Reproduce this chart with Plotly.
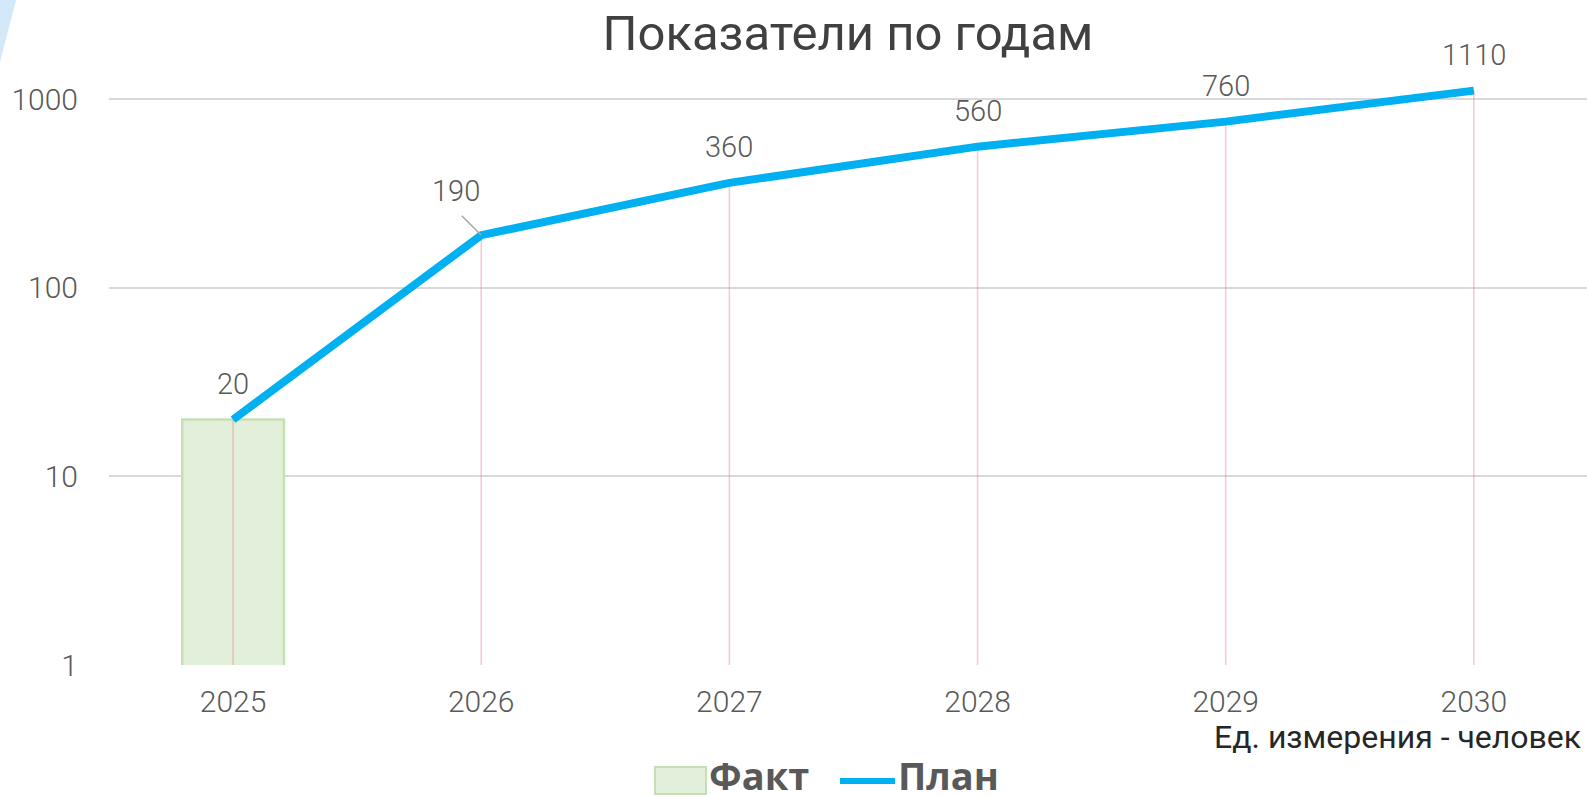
import math
import plotly.graph_objects as go

categories = ["2025", "2026", "2027", "2028", "2029", "2030"]
fact_values = [20, None, None, None, None, None]
plan_values = [20, 190, 360, 560, 760, 1110]
y_tick_values = [1, 10, 100, 1000]
y_tick_labels = ["1", "10", "100", "1000"]

W, H = 1587, 797
ML, MR, MT, MB = 109, 0, 52, 132

GREY = "#595959"
TICK_FONT = dict(family="Roboto", size=30, color=GREY, weight=300)
LABEL_FONT = dict(family="Roboto", size=29, color=GREY, weight=300)

fig = go.Figure()

# drop lines from each plan point down to the axis
drop_x, drop_y = [], []
for c, v in zip(categories, plan_values):
    drop_x += [c, c, None]
    drop_y += [1, v, None]

fig.add_trace(go.Bar(
    x=categories, y=fact_values, name="Факт", width=0.41,
    marker=dict(color="#E2EFDA", line=dict(color="#C5E0B4", width=2.5)),
    showlegend=False, hoverinfo="skip",
))
fig.add_trace(go.Scatter(
    x=drop_x, y=drop_y, mode="lines",
    line=dict(color="rgba(240,130,150,0.45)", width=1.5),
    showlegend=False, hoverinfo="skip",
))
fig.add_trace(go.Scatter(
    x=categories, y=plan_values, name="План", mode="lines",
    line=dict(color="#00B0F0", width=8),
    showlegend=False,
))

# data labels (category axis positions by index)
for i, v in enumerate(plan_values):
    if v == 190:
        # leader line
        fig.add_annotation(
            x=i, y=math.log10(v), text="", showarrow=True,
            arrowhead=0, arrowwidth=1.5, arrowcolor="#A6A6A6",
            ax=-21, ay=-21, standoff=0,
        )
        fig.add_annotation(
            x=i, y=math.log10(v), text=str(v), showarrow=False,
            xshift=-25, yshift=44, font=LABEL_FONT,
        )
    else:
        fig.add_annotation(
            x=i, y=math.log10(v), text=str(v), showarrow=False,
            yshift=36, font=LABEL_FONT,
        )

pw = W - ML - MR
ph = H - MT - MB


def px_x(px):
    return (px - ML) / pw


def px_y(py):
    return (H - MB - py) / ph


# unit note
fig.add_annotation(
    xref="paper", yref="paper", x=px_x(1583), y=px_y(737),
    xanchor="right", yanchor="middle", showarrow=False,
    text="Ед. измерения - человек",
    font=dict(family="Roboto", size=32, color="#262626"),
)

# custom legend
fig.add_shape(type="rect", xref="paper", yref="paper",
              x0=px_x(655), x1=px_x(706), y0=px_y(794), y1=px_y(767),
              fillcolor="#E2EFDA", line=dict(color="#C5E0B4", width=2))
fig.add_annotation(xref="paper", yref="paper", x=px_x(707), y=px_y(775),
                   xanchor="left", yanchor="middle", showarrow=False,
                   text="Факт",
                   font=dict(family="Open Sans", size=38, color=GREY, weight=700))
fig.add_shape(type="line", xref="paper", yref="paper",
              x0=px_x(840), x1=px_x(895), y0=px_y(781), y1=px_y(781),
              line=dict(color="#00B0F0", width=6))
fig.add_annotation(xref="paper", yref="paper", x=px_x(896), y=px_y(775),
                   xanchor="left", yanchor="middle", showarrow=False,
                   text="План",
                   font=dict(family="Open Sans", size=38, color=GREY, weight=700))

# decorative corner
fig.add_shape(type="path", xref="paper", yref="paper",
              path=f"M {px_x(0)},{px_y(0)} L {px_x(16)},{px_y(0)} L {px_x(0)},{px_y(62)} Z",
              fillcolor="#D3E8F8", line=dict(width=0), layer="below")

fig.update_layout(
    width=W, height=H,
    margin=dict(l=ML, r=MR, t=MT, b=MB),
    paper_bgcolor="white", plot_bgcolor="white",
    title=dict(text="Показатели по годам", x=0.5, xref="paper",
               y=1 - 33 / H, yanchor="middle", xanchor="center",
               font=dict(family="Roboto", size=49, color="#404040")),
    showlegend=False,
    bargap=0.6,
)
fig.update_xaxes(
    type="category", range=[-0.5, 5.456],
    showgrid=False, zeroline=False, showline=False,
    tickfont=TICK_FONT, ticks="", ticklabelstandoff=16,
)
fig.update_yaxes(
    type="log", range=[0, 3.25],
    tickvals=y_tick_values, ticktext=y_tick_labels,
    showgrid=True, gridcolor="#D9D9D9", gridwidth=1.5,
    zeroline=False, showline=False,
    tickfont=TICK_FONT, ticks="", ticklabelstandoff=30,
)

fig.write_html(
    "out.html",
    config={"displayModeBar": False},
    post_script="document.body.style.margin='0';document.body.style.overflow='hidden';",
)
